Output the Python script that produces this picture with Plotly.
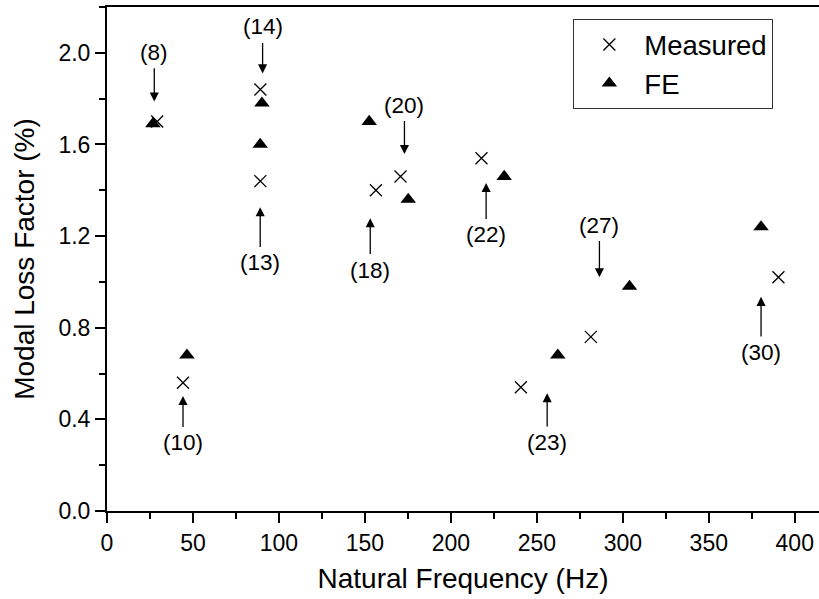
import plotly.graph_objects as go

# Measured modal loss factors
meas_freq = [29.2, 44.2, 89.2, 89.2, 156.4, 170.7, 217.8, 240.7, 281.4, 390.5]
meas_loss = [1.70, 0.56, 1.44, 1.84, 1.40, 1.46, 1.54, 0.54, 0.76, 1.02]

# FE predicted modal loss factors
fe_freq = [26.7, 46.5, 89.1, 90.1, 152.5, 175.2, 231.0, 262.2, 303.9, 380.4]
fe_loss = [1.69, 0.68, 1.60, 1.78, 1.70, 1.36, 1.46, 0.68, 0.98, 1.24]

# Mode-number annotations: label, x of arrow, arrow tip y, label centre y
ann_labels = ["(8)", "(10)", "(13)", "(14)", "(18)", "(20)", "(22)", "(23)", "(27)", "(30)"]
ann_x = [27.5, 44.2, 89.1, 90.5, 153.1, 173.0, 220.5, 256.0, 286.4, 380.4]
ann_tip = [1.787, 0.502, 1.326, 1.910, 1.278, 1.558, 1.432, 0.514, 1.020, 0.935]
ann_text_y = [2.003, 0.297, 1.083, 2.113, 1.052, 1.772, 1.205, 0.299, 1.248, 0.692]

x_ticks = [0, 50, 100, 150, 200, 250, 300, 350, 400]
y_ticks = [0.0, 0.4, 0.8, 1.2, 1.6, 2.0]

FONT = "Liberation Sans, Arial, sans-serif"

fig = go.Figure()
fig.add_trace(go.Scatter(
    x=meas_freq, y=meas_loss, mode="markers", name="Measured",
    marker=dict(symbol="x-thin", size=12, color="black",
                line=dict(color="black", width=1.3)),
))
fig.add_trace(go.Scatter(
    x=fe_freq, y=fe_loss, mode="markers", name="FE",
    marker=dict(symbol="triangle-up", size=13.5, color="black",
                line=dict(width=0)),
))

annotations = []
for lab, x, tip, ty in zip(ann_labels, ann_x, ann_tip, ann_text_y):
    annotations.append(dict(
        x=x, y=tip, xref="x", yref="y",
        ax=x, ay=ty, axref="x", ayref="y",
        text=lab, showarrow=True,
        arrowhead=2, arrowsize=1.4, arrowwidth=1.3, arrowcolor="black",
        standoff=0, startstandoff=2,
        font=dict(family=FONT, size=22.5, color="black"),
    ))

fig.update_layout(
    width=819, height=599,
    margin=dict(l=107, r=0, t=7, b=88),
    paper_bgcolor="white", plot_bgcolor="white",
    font=dict(family=FONT, color="black"),
    showlegend=True,
    legend=dict(
        x=0.655, y=0.976, xanchor="left", yanchor="top",
        bgcolor="white", bordercolor="#333333", borderwidth=1,
        font=dict(family=FONT, size=27.5, color="black"),
        itemwidth=60,
    ),
    annotations=annotations,
    xaxis=dict(
        range=[0, 414.1], tickvals=x_ticks,
        showgrid=False, zeroline=False,
        showline=True, linecolor="black", linewidth=2, mirror=True,
        ticks="outside", ticklen=10, tickwidth=2, tickcolor="black",
        minor=dict(dtick=25, tick0=0, ticks="outside", ticklen=6, tickwidth=2, tickcolor="black"),
        tickfont=dict(family=FONT, size=23, color="black"),
        title=dict(text="Natural Frequency (Hz)", font=dict(family=FONT, size=28, color="black"), standoff=14),
    ),
    yaxis=dict(
        range=[0, 2.2], tickvals=y_ticks, tickformat=".1f",
        showgrid=False, zeroline=False,
        showline=True, linecolor="black", linewidth=2, mirror=False,
        ticks="outside", ticklen=10, tickwidth=2, tickcolor="black",
        minor=dict(dtick=0.2, tick0=0, ticks="outside", ticklen=6, tickwidth=2, tickcolor="black"),
        tickfont=dict(family=FONT, size=23, color="black"),
        title=dict(text="Modal Loss Factor (%)", font=dict(family=FONT, size=28, color="black"), standoff=16),
    ),
)

fig.write_html("out.html")
